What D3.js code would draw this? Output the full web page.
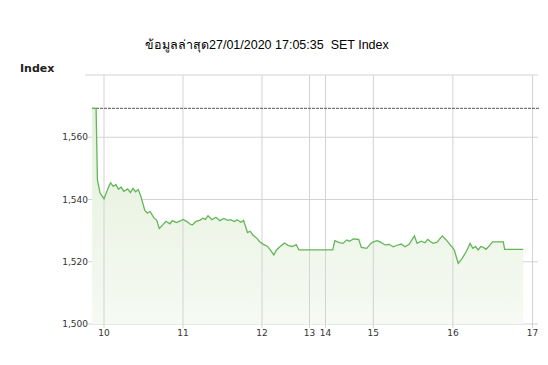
<!DOCTYPE html>
<html>
<head>
<meta charset="utf-8">
<script src="https://cdn.jsdelivr.net/npm/d3@7"></script>
<style>
  body { margin: 0; background: #fff; }
  svg text { font-family: "DejaVu Sans", sans-serif; }
</style>
</head>
<body>
<script>
// SET Index intraday, 27/01/2020
var titleText = "ข้อมูลล่าสุด27/01/2020 17:05:35  SET Index";
var yTitle = "Index";

var times = ["09:51","09:54","09:55","09:57","10:00","10:03","10:05","10:07","10:09","10:11",
  "10:13","10:15","10:18","10:20","10:22","10:24","10:26","10:28","10:31","10:33",
  "10:35","10:38","10:40","10:42","10:45","10:47","10:50","10:52","10:55","10:58",
  "11:00","11:03","11:05","11:07","11:10","11:13","11:15","11:17","11:19","11:22",
  "11:25","11:28","11:31","11:34","11:36","11:39","11:41","11:44","11:46","11:49",
  "11:51","11:53","11:56","11:58","12:01","12:04","12:06","12:09","12:11","12:14",
  "12:17","12:20","12:23","12:26","12:28","14:27","14:31","14:34","14:37","14:40",
  "14:42","14:45","14:49","14:51","14:55","14:58","15:00","15:03","15:05","15:09",
  "15:12","15:15","15:18","15:21","15:24","15:27","15:31","15:33","15:36","15:39",
  "15:41","15:43","15:45","15:48","15:52","15:55","15:58","16:01","16:04","16:07",
  "16:10","16:13","16:15","16:17","16:19","16:21","16:23","16:25","16:28","16:30",
  "16:38","16:39","16:53"];

var values = [1569.3,1569.3,1546.3,1542.1,1540.2,1543.5,1545.4,1544.2,1544.8,1543.3,
  1544.0,1542.6,1543.4,1542.2,1543.6,1542.5,1543.2,1541.0,1536.5,1535.6,
  1536.2,1534.0,1533.4,1530.7,1532.0,1533.0,1532.2,1533.2,1532.6,1533.1,
  1533.6,1532.9,1532.2,1531.8,1533.0,1533.4,1534.0,1533.6,1534.8,1533.5,
  1534.3,1533.2,1533.9,1533.3,1533.5,1532.9,1533.5,1532.7,1533.3,1529.4,
  1529.8,1528.6,1527.6,1526.5,1525.6,1525.0,1524.0,1522.2,1523.8,1525.0,
  1526.0,1525.2,1524.9,1525.5,1523.8,1523.8,1526.8,1526.2,1525.9,1527.0,
  1526.6,1527.3,1527.2,1524.6,1524.3,1525.8,1526.4,1526.8,1526.4,1525.4,
  1525.6,1524.8,1525.3,1525.7,1524.8,1525.6,1528.3,1525.9,1526.6,1526.1,
  1527.2,1526.5,1525.9,1526.3,1528.3,1527.0,1525.4,1523.8,1519.5,1521.1,
  1523.2,1525.9,1524.3,1524.9,1523.8,1524.9,1524.6,1524.0,1525.4,1526.4,
  1526.4,1524.0,1524.0];

var prevClose = 1569.3;
var hourTicks = [10, 11, 12, 13, 14, 15, 16, 17];
var indexTicks = [1500, 1520, 1540, 1560];
var indexGrid = [1500, 1520, 1540, 1560, 1580];

// hours -> decimal
function toHour(s) {
  var p = s.split(":");
  return +p[0] + (+p[1]) / 60;
}
var data = times.map(function(t, i) { return { t: toHour(t), v: values[i] }; });

var width = 548, height = 365;
var margin = {left: 92, right: 538, top: 75, bottom: 324};

// lunch break (12:30 - 14:30) is squeezed
var x = d3.scaleLinear()
  .domain([10, 12.5, 14.5, 17])
  .range([104, 301.5, 333.5, 532.5]);

var y = d3.scaleLinear()
  .domain([1500, 1580])
  .range([margin.bottom, margin.top]);

var svg = d3.select("body").append("svg")
  .attr("width", width)
  .attr("height", height);

var defs = svg.append("defs");
var grad = defs.append("linearGradient")
  .attr("id", "fillGrad")
  .attr("x1", 0).attr("y1", 0).attr("x2", 0).attr("y2", 1);
grad.append("stop").attr("offset", "0%").attr("stop-color", "#e4f0da");
grad.append("stop").attr("offset", "100%").attr("stop-color", "#f6faf3");

// horizontal grid
svg.append("g").selectAll("line")
  .data(indexGrid)
  .enter().append("line")
  .attr("x1", function(d) { return d === 1580 ? 85 : 88; })
  .attr("x2", margin.right)
  .attr("y1", function(d) { return y(d); })
  .attr("y2", function(d) { return y(d); })
  .style("stroke", "#d3d3d3")
  .style("stroke-width", 1);

// area under the line
var area = d3.area()
  .x(function(d) { return x(d.t); })
  .y0(y(1500))
  .y1(function(d) { return y(d.v); });

svg.append("path")
  .datum(data)
  .attr("d", area)
  .style("fill", "url(#fillGrad)");

// vertical grid
svg.append("g").selectAll("line")
  .data(hourTicks)
  .enter().append("line")
  .attr("x1", function(d) { return x(d); })
  .attr("x2", function(d) { return x(d); })
  .attr("y1", margin.top)
  .attr("y2", margin.bottom + 4)
  .style("stroke", "#d3d3d3")
  .style("stroke-width", 1);

// previous close
svg.append("line")
  .attr("x1", margin.left)
  .attr("x2", margin.right + 1)
  .attr("y1", y(prevClose))
  .attr("y2", y(prevClose))
  .style("stroke", "#555")
  .style("stroke-width", 1)
  .style("stroke-dasharray", "3,1");

var line = d3.line()
  .x(function(d) { return x(d.t); })
  .y(function(d) { return y(d.v); });

svg.append("path")
  .datum(data)
  .attr("d", line)
  .style("fill", "none")
  .style("stroke", "#62b658")
  .style("stroke-width", 1.3);

// y labels
var fmt = d3.format(",");
svg.append("g").selectAll("text")
  .data(indexTicks)
  .enter().append("text")
  .attr("x", 88)
  .attr("y", function(d) { return y(d) + 3; })
  .attr("text-anchor", "end")
  .style("font-size", "9px")
  .style("fill", "#333")
  .text(function(d) { return fmt(d); });

// x labels
svg.append("g").selectAll("text")
  .data(hourTicks)
  .enter().append("text")
  .attr("x", function(d) { return x(d); })
  .attr("y", 336)
  .attr("text-anchor", "middle")
  .style("font-size", "9px")
  .style("fill", "#333")
  .text(function(d) { return d; });

svg.append("text")
  .attr("x", 20)
  .attr("y", 72)
  .style("font-size", "11px")
  .style("font-weight", "bold")
  .style("fill", "#222")
  .text(yTitle);

svg.append("text")
  .attr("x", 145)
  .attr("y", 49)
  .style("font-family", "'Liberation Sans', Arial, sans-serif")
  .style("font-size", "12.5px")
  .style("white-space", "pre")
  .style("fill", "#000")
  .text(titleText);
</script>
</body>
</html>
